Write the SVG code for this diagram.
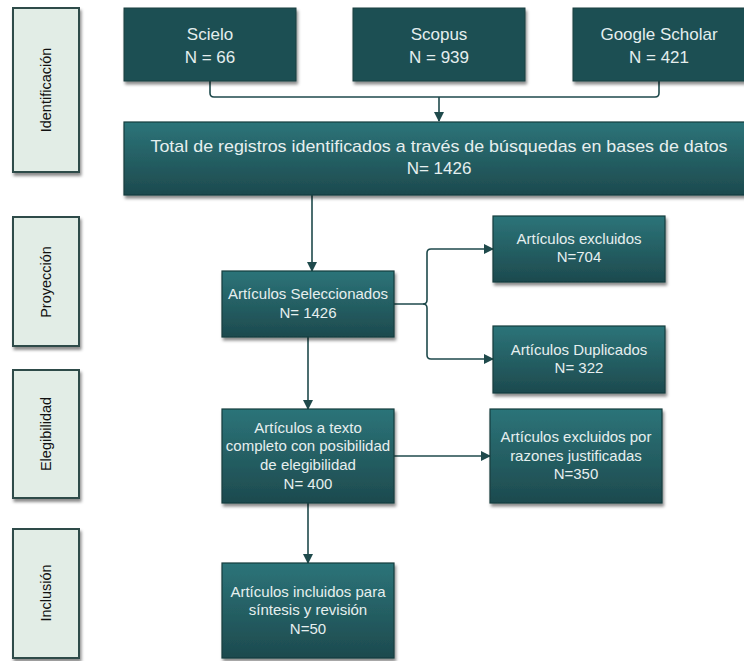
<svg xmlns="http://www.w3.org/2000/svg" width="744" height="661" viewBox="0 0 744 661">
<defs>
  <linearGradient id="tealGrad" x1="0" y1="0" x2="0" y2="1">
    <stop offset="0" stop-color="#2c7479"/>
    <stop offset="1" stop-color="#1d4a4e"/>
  </linearGradient>
  <filter id="shadow" x="-10%" y="-10%" width="125%" height="135%">
    <feDropShadow dx="1.5" dy="3" stdDeviation="1.8" flood-color="#000" flood-opacity="0.45"/>
  </filter>
  <marker id="arrow" viewBox="0 0 10 10" refX="9" refY="5" markerWidth="10" markerHeight="10" markerUnits="userSpaceOnUse" orient="auto">
    <path d="M0,0 L10,5 L0,10 z" fill="#1f4a4c"/>
  </marker>
  <style>
    .phase { fill: #e2ede6; stroke: #2f4b48; stroke-width: 2; filter: url(#shadow); }
    .phase-text { font-family: "Liberation Sans", Arial, sans-serif; font-size: 14.5px; fill: #111; text-anchor: middle; }
    .src { fill: #1f5053; stroke: #1a3d3f; stroke-width: 1; filter: url(#shadow); }
    .src-text { font-family: "Liberation Sans", Arial, sans-serif; font-size: 17px; fill: #e4eeee; text-anchor: middle; }
    .box { fill: url(#tealGrad); stroke: #183c3e; stroke-width: 1.2; filter: url(#shadow); }
    .box-text { font-family: "Liberation Sans", Arial, sans-serif; font-size: 15px; fill: #e6efef; text-anchor: middle; }
    .big-text { font-family: "Liberation Sans", Arial, sans-serif; font-size: 17px; fill: #e6efef; text-anchor: middle; }
    .conn { fill: none; stroke: #1f4a4c; stroke-width: 1.6; }
  </style>
</defs>
<rect width="744" height="661" fill="#ffffff"/>

<!-- Phase labels -->
<g id="phase-identificacion">
  <rect class="phase" x="13" y="8" width="66" height="164"/>
  <text class="phase-text" transform="translate(51,90) rotate(-90)">Identificación</text>
</g>
<g id="phase-proyeccion">
  <rect class="phase" x="13" y="217" width="66" height="129"/>
  <text class="phase-text" transform="translate(51,282) rotate(-90)">Proyección</text>
</g>
<g id="phase-elegibilidad">
  <rect class="phase" x="13" y="370" width="66" height="128"/>
  <text class="phase-text" transform="translate(51,434) rotate(-90)">Elegibilidad</text>
</g>
<g id="phase-inclusion">
  <rect class="phase" x="13" y="529" width="66" height="129"/>
  <text class="phase-text" transform="translate(51,593) rotate(-90)">Inclusión</text>
</g>

<!-- Connectors -->
<g id="connectors">
  <path class="conn" d="M210,81 V93 Q210,97 214,97 H655 Q659,97 659,93 V81"/>
  <path class="conn" d="M439,97 V121" marker-end="url(#arrow)"/>
  <path class="conn" d="M312,195 V271" marker-end="url(#arrow)"/>
  <path class="conn" d="M394,304 H423 Q427,304 427,300 V253 Q427,249 431,249 H493" marker-end="url(#arrow)"/>
  <path class="conn" d="M423,304 Q427,304 427,308 V355 Q427,359 431,359 H493" marker-end="url(#arrow)"/>
  <path class="conn" d="M308,337 V409" marker-end="url(#arrow)"/>
  <path class="conn" d="M394,456 H490" marker-end="url(#arrow)"/>
  <path class="conn" d="M308,503 V563" marker-end="url(#arrow)"/>
</g>

<!-- Source nodes -->
<g id="node-scielo">
  <rect class="src" x="124" y="8" width="172" height="73"/>
  <text class="src-text" x="210" y="40">Scielo</text>
  <text class="src-text" x="210" y="63">N = 66</text>
</g>
<g id="node-scopus">
  <rect class="src" x="353" y="8" width="172" height="73"/>
  <text class="src-text" x="439" y="40">Scopus</text>
  <text class="src-text" x="439" y="63">N = 939</text>
</g>
<g id="node-google">
  <rect class="src" x="573" y="8" width="175" height="73"/>
  <text class="src-text" x="659" y="40">Google Scholar</text>
  <text class="src-text" x="659" y="63">N = 421</text>
</g>

<!-- Total -->
<g id="node-total">
  <rect class="box" x="124" y="122" width="624" height="73"/>
  <text class="big-text" x="439" y="152" textLength="577" lengthAdjust="spacingAndGlyphs">Total de registros identificados a través de búsquedas en bases de datos</text>
  <text class="big-text" x="439" y="174">N= 1426</text>
</g>

<g id="node-seleccionados">
  <rect class="box" x="222" y="271" width="172" height="66"/>
  <text class="box-text" x="308" y="299">Artículos Seleccionados</text>
  <text class="box-text" x="308" y="318">N= 1426</text>
</g>

<g id="node-excluidos">
  <rect class="box" x="493" y="216" width="172" height="66"/>
  <text class="box-text" x="579" y="244">Artículos excluidos</text>
  <text class="box-text" x="579" y="262">N=704</text>
</g>

<g id="node-duplicados">
  <rect class="box" x="493" y="326" width="172" height="67"/>
  <text class="box-text" x="579" y="355">Artículos Duplicados</text>
  <text class="box-text" x="579" y="373">N= 322</text>
</g>

<g id="node-elegibilidad">
  <rect class="box" x="222" y="409" width="172" height="94"/>
  <text class="box-text" x="308" y="433">Artículos a texto</text>
  <text class="box-text" x="308" y="451">completo con posibilidad</text>
  <text class="box-text" x="308" y="470">de elegibilidad</text>
  <text class="box-text" x="308" y="489">N= 400</text>
</g>

<g id="node-razones">
  <rect class="box" x="490" y="409" width="172" height="94"/>
  <text class="box-text" x="576" y="442">Artículos excluidos por</text>
  <text class="box-text" x="576" y="461">razones justificadas</text>
  <text class="box-text" x="576" y="479">N=350</text>
</g>

<g id="node-incluidos">
  <rect class="box" x="222" y="563" width="172" height="95"/>
  <text class="box-text" x="308" y="597">Artículos incluidos para</text>
  <text class="box-text" x="308" y="615">síntesis y revisión</text>
  <text class="box-text" x="308" y="634">N=50</text>
</g>
</svg>
